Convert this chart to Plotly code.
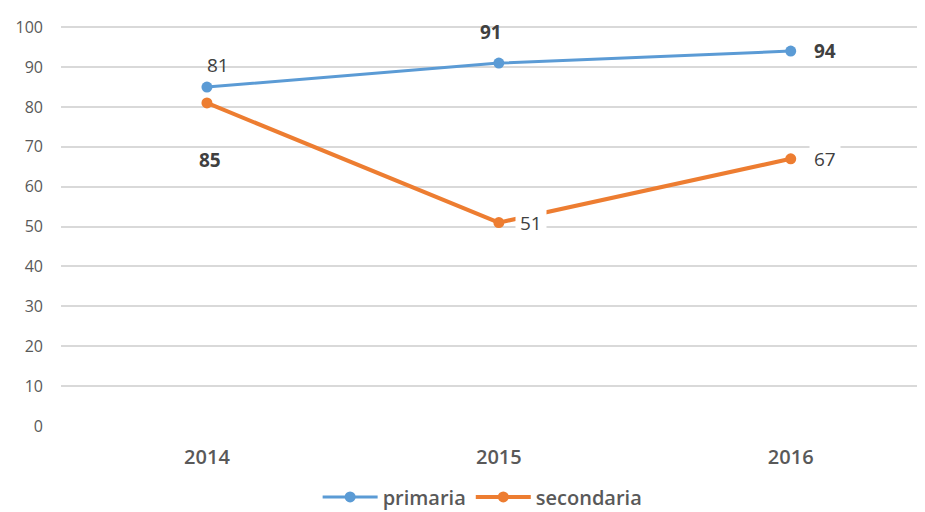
import plotly.graph_objects as go

years = ["2014", "2015", "2016"]
primaria = [85, 91, 94]
secondaria = [81, 51, 67]
y_ticks = list(range(0, 101, 10))

blue = "#5B9BD5"
orange = "#ED7D31"
grey = "#595959"
font = "Open Sans"

fig = go.Figure()
fig.add_trace(go.Scatter(x=years, y=primaria, name="primaria", mode="lines+markers",
                         line=dict(color=blue, width=3), marker=dict(size=11, color=blue)))
fig.add_trace(go.Scatter(x=years, y=secondaria, name="secondaria", mode="lines+markers",
                         line=dict(color=orange, width=4), marker=dict(size=11, color=orange)))

# data labels placed the way the original chart has them (x given as category index)
labels = [
    (0, primaria[0], str(secondaria[0]), 11, 22, False, False),
    (0, secondaria[0], str(primaria[0]), 3, -57, True, False),
    (1, primaria[1], str(primaria[1]), -8, 31, True, False),
    (2, primaria[2], str(primaria[2]), 34, 0, True, False),
    (1, secondaria[1], str(secondaria[1]), 32, 0, False, True),
    (2, secondaria[2], str(secondaria[2]), 34, 0, False, True),
]
for x, y, t, dx, dy, bold, bg in labels:
    fig.add_annotation(x=x, y=y, xref="x", yref="y",
                       text="<b>%s</b>" % t if bold else t, showarrow=False,
                       xshift=dx, yshift=dy, font=dict(size=19, color="#404040", family=font),
                       bgcolor="white" if bg else "rgba(0,0,0,0)", borderpad=4 if bg else 0)

fig.update_layout(
    width=917, height=504,
    margin=dict(l=53, r=0, t=18, b=86, autoexpand=False),
    plot_bgcolor="white", paper_bgcolor="white",
    font=dict(family=font, color=grey),
    showlegend=True,
    legend=dict(orientation="h", x=0.488, xanchor="center", yref="container", y=0.03,
                yanchor="middle", font=dict(size=20, color=grey, weight=600), itemwidth=55),
    xaxis=dict(type="category", range=[-0.5, 2.46], showgrid=False, showline=False,
               zeroline=False, automargin=False,
               tickfont=dict(size=20, color=grey, weight=600), ticklabelstandoff=17),
    yaxis=dict(range=[0, 100.3], tickvals=y_ticks, showgrid=True, gridcolor="#D9D9D9",
               gridwidth=1.5, zeroline=False, showline=False, automargin=False,
               tickfont=dict(size=16, color=grey), ticklabelstandoff=17),
)

fig.write_html("out.html")
